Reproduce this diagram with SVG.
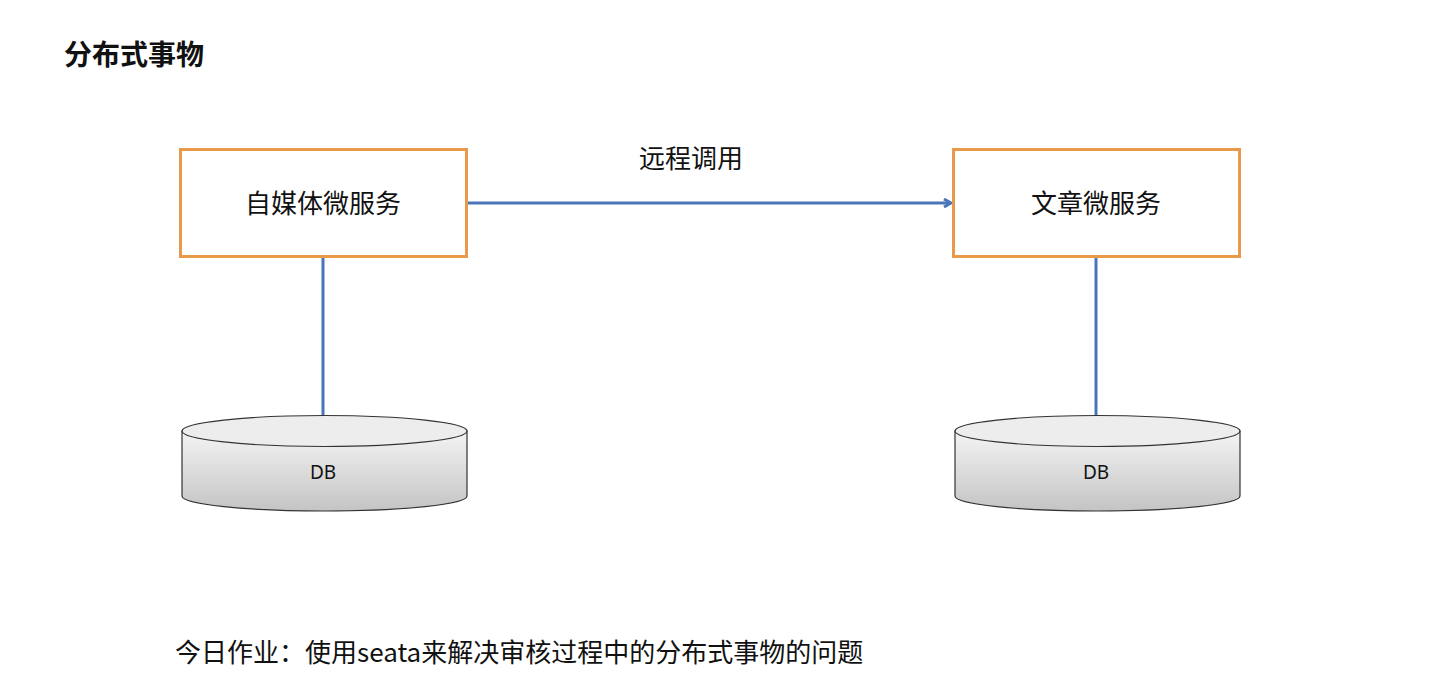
<svg xmlns="http://www.w3.org/2000/svg" width="1429" height="697" viewBox="0 0 1429 697">
<style>
.box{fill:#fff;stroke:#E8994A;stroke-width:3}
.cjk{font-family:"Noto Sans CJK SC","Noto Sans",sans-serif;fill:#111}
.link{stroke:#4A76B8;stroke-width:3;fill:none}
.cyl{stroke:#333;stroke-width:1.2}
</style>
<defs>
<linearGradient id="g" x1="0" y1="0" x2="0" y2="1">
<stop offset="0" stop-color="#F4F4F4"/>
<stop offset="1" stop-color="#C4C4C4"/>
</linearGradient>
<marker id="arr" markerWidth="10" markerHeight="10" refX="8" refY="5" orient="auto" markerUnits="userSpaceOnUse">
<path d="M1,1 L8,5 L1,9" fill="none" stroke="#4A76B8" stroke-width="3"/>
</marker>
</defs>
<rect width="1429" height="697" fill="#fff"/>
<text x="64" y="65" class="cjk" font-size="28" font-weight="bold">分布式事物</text>
<g id="connectors">
<line class="link" x1="467" y1="203" x2="951" y2="203" marker-end="url(#arr)"/>
<line class="link" x1="323" y1="257" x2="323" y2="416"/>
<line class="link" x1="1096" y1="257" x2="1096" y2="416"/>
<text x="691" y="168" class="cjk" font-size="26" text-anchor="middle">远程调用</text>
</g>
<g id="node-media">
<rect class="box" x="180.5" y="149.5" width="286" height="107"/>
<text x="323" y="213" class="cjk" font-size="26" text-anchor="middle">自媒体微服务</text>
</g>
<g id="node-article">
<rect class="box" x="953.5" y="149.5" width="286" height="107"/>
<text x="1096" y="213" class="cjk" font-size="26" text-anchor="middle">文章微服务</text>
</g>
<g id="db1">
<path class="cyl" d="M182,431 L182,496 A142.5,15 0 0 0 467,496 L467,431 Z" fill="url(#g)"/>
<ellipse class="cyl" cx="324.5" cy="431" rx="142.5" ry="15.5" fill="#EDEDED"/>
<text x="323" y="479" font-family="Noto Sans,sans-serif" font-size="19" text-anchor="middle" fill="#111">DB</text>
</g>
<g id="db2">
<path class="cyl" d="M955,431 L955,496 A142.5,15 0 0 0 1240,496 L1240,431 Z" fill="url(#g)"/>
<ellipse class="cyl" cx="1097.5" cy="431" rx="142.5" ry="15.5" fill="#EDEDED"/>
<text x="1096" y="479" font-family="Noto Sans,sans-serif" font-size="19" text-anchor="middle" fill="#111">DB</text>
</g>
<text x="175" y="662" class="cjk" font-size="26">今日作业：使用seata来解决审核过程中的分布式事物的问题</text>
</svg>
